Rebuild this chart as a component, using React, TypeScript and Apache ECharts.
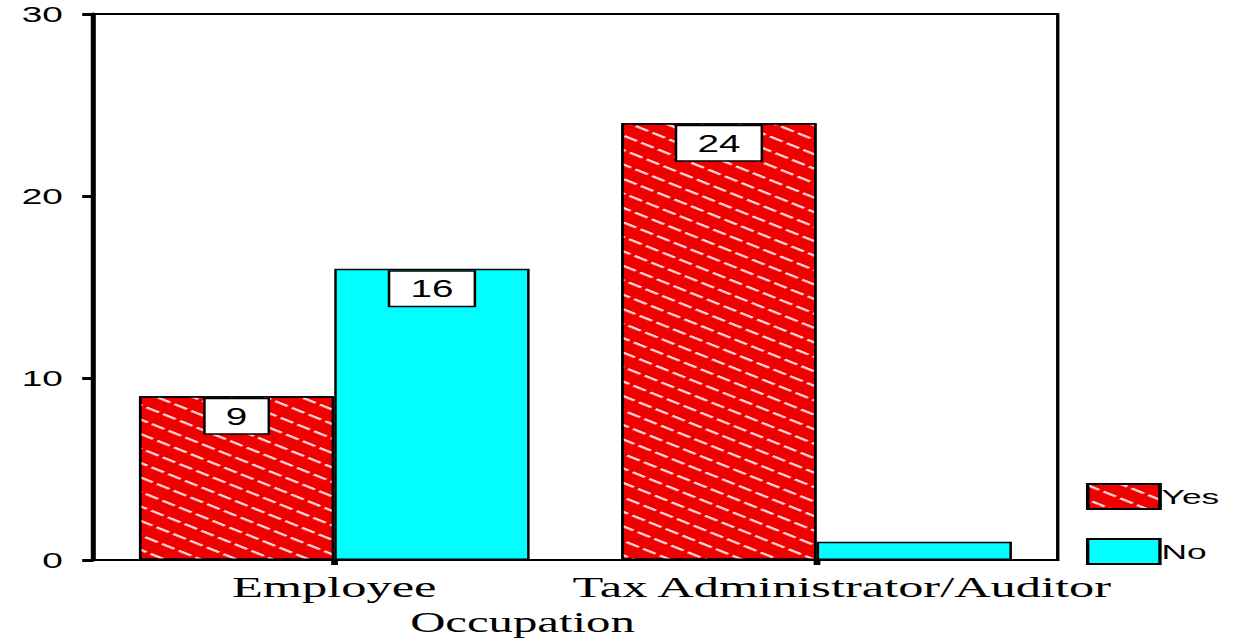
import React, { useEffect, useRef } from "react";
import * as echarts from "echarts";

const categories = ["Employee", "Tax Administrator/Auditor"];
const yesValues = [9, 24];
const noValues = [16, 1];
const seriesNames = ["Yes", "No"];
const yMin = 0;
const yMax = 30;
const yInterval = 10;

const STRETCH = 1244 / 740;

export default function App() {
  const ref = useRef<HTMLDivElement>(null);
  useEffect(() => {
    if (!ref.current) return;
    const chart = echarts.init(ref.current, null, { renderer: "svg" });
    const labelStyle = {
      show: true,
      position: "insideTop",
      distance: 3,
      color: "#000",
      fontFamily: "Liberation Sans",
      fontSize: 23,
      lineHeight: 23,
      backgroundColor: "#fff",
      borderColor: "#000",
      borderWidth: 1.5,
      padding: [6, 12, 5, 12],
    };
    const mk = (vals: number[]) =>
      vals.map((v) => ({ value: v, label: { show: v >= 5 } }));
    chart.setOption({
      animation: false,
      backgroundColor: "#fff",
      grid: {
        left: 55.4,
        right: 110.8,
        top: 14,
        bottom: 78,
        outerBoundsMode: "none",
        containLabel: false,
        show: true,
        borderColor: "#000",
        borderWidth: 2,
        backgroundColor: "transparent",
      },
      legend: {
        orient: "vertical",
        left: 646,
        top: 483,
        padding: 0,
        itemWidth: 43,
        itemHeight: 25,
        itemGap: 28,
        icon: "rect",
        textStyle: {
          color: "#000",
          fontFamily: "Liberation Sans",
          fontSize: 21,
          padding: [0, 0, 0, -4],
        },
        data: seriesNames,
      },
      xAxis: {
        type: "category",
        data: [
          categories[0],
          { value: categories[1], textStyle: { padding: [0, 0, 0, 30] } },
        ],
        name: "Occupation",
        nameLocation: "middle",
        nameGap: 40,
        nameTextStyle: {
          color: "#000",
          fontFamily: "Liberation Serif",
          fontSize: 29,
          lineHeight: 30,
          padding: [0, 63, 0, 0],
        },
        axisLine: { lineStyle: { color: "#000", width: 2 } },
        axisTick: { show: true, alignWithLabel: true, length: 5, lineStyle: { color: "#000", width: 4 } },
        axisLabel: {
          color: "#000",
          fontFamily: "Liberation Serif",
          fontSize: 30,
          margin: 12,
          interval: 0,
        },
        splitLine: { show: false },
      },
      yAxis: {
        type: "value",
        min: yMin,
        max: yMax,
        interval: yInterval,
        axisLine: { show: true, lineStyle: { color: "#000", width: 3 } },
        axisTick: { show: true, length: 6.5, lineStyle: { color: "#000", width: 3 } },
        axisLabel: {
          color: "#000",
          fontFamily: "Liberation Sans",
          fontSize: 22,
          margin: 18,
        },
        splitLine: { show: false },
      },
      series: [
        {
          name: seriesNames[0],
          type: "bar",
          data: mk(yesValues),
          barGap: "0%",
          barCategoryGap: "19%",
          itemStyle: {
            color: "#f00000",
            borderColor: "#000",
            borderWidth: 1.5,
            decal: {
              symbol: "rect",
              symbolSize: 1,
              color: "rgba(255,255,255,0.85)",
              dashArrayX: [9, 3],
              dashArrayY: [2, 10],
              rotation: 34 * Math.PI / 180,
            },
          },
          label: labelStyle,
        },
        {
          name: seriesNames[1],
          type: "bar",
          data: mk(noValues),
          barGap: "0%",
          barCategoryGap: "19%",
          itemStyle: { color: "#00ffff", borderColor: "#000", borderWidth: 1.5 },
          label: labelStyle,
        },
      ],
    });
    return () => chart.dispose();
  }, []);
  return (
    <div
      ref={ref}
      style={{
        position: "fixed",
        left: 0,
        top: 0,
        width: 740,
        height: 638,
        transform: `scaleX(${STRETCH})`,
        transformOrigin: "0 0",
        background: "#fff",
      }}
    />
  );
}
